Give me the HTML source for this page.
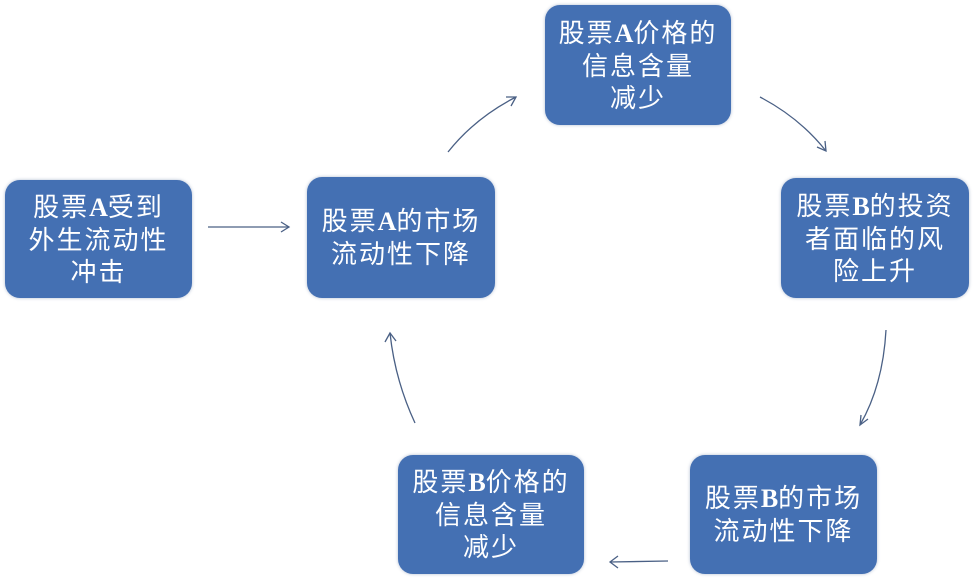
<!DOCTYPE html>
<html><head><meta charset="utf-8"><style>
html,body{margin:0;padding:0;background:#fff;}
body{width:975px;height:587px;position:relative;overflow:hidden;font-family:"Liberation Sans","Noto Sans CJK SC",sans-serif;}
.b{position:absolute;background:#4470b3;border-radius:15px;color:#fff;font-size:26px;letter-spacing:2px;line-height:32px;text-align:center;display:flex;align-items:center;justify-content:center;box-shadow:0 0 3px rgba(60,90,140,0.4);}
.b b{font-family:"Liberation Serif",serif;font-weight:bold;letter-spacing:0;}
svg{position:absolute;left:0;top:0;}
</style></head><body>
<div class="b" style="left:5px;top:180px;width:187px;height:118px;"><div>股票<b>A</b>受到<br>外生流动性<br>冲击</div></div>
<div class="b" style="left:307px;top:177px;width:188px;height:121px;"><div>股票<b>A</b>的市场<br>流动性下降</div></div>
<div class="b" style="left:545px;top:5px;width:186px;height:120px;"><div>股票<b>A</b>价格的<br>信息含量<br>减少</div></div>
<div class="b" style="left:781px;top:178px;width:188px;height:120px;"><div>股票<b>B</b>的投资<br>者面临的风<br>险上升</div></div>
<div class="b" style="left:690px;top:455px;width:187px;height:119px;"><div>股票<b>B</b>的市场<br>流动性下降</div></div>
<div class="b" style="left:398px;top:455px;width:186px;height:119px;"><div>股票<b>B</b>价格的<br>信息含量<br>减少</div></div>
<svg width="975" height="587" fill="none" stroke="#4a6085" stroke-width="1.3">
<path d="M208 227 L289 227"/><path d="M281 222 L289 227 L281 232"/>
<path d="M448 152 Q475 118 516 97"/><path d="M506 97 L516 97 L511 106"/>
<path d="M760 97 Q800 118 826 151"/><path d="M817 147 L826 151 L825 141"/>
<path d="M886 330 Q883 385 860 425"/><path d="M861 415 L860 425 L868 419"/>
<path d="M668 561 L610 562"/><path d="M618 556 L610 562 L618 568"/>
<path d="M415 423 Q395 380 390 333"/><path d="M385 342 L390 333 L396 341"/>
</svg>
</body></html>
